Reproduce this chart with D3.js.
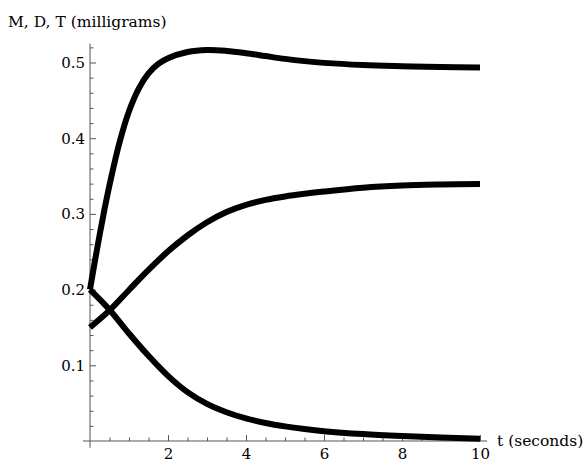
<!DOCTYPE html>
<html>
<head>
<meta charset="utf-8">
<script src="https://cdn.jsdelivr.net/npm/d3@7"></script>
<style>
  html, body { margin: 0; padding: 0; background: #fff; }
  svg { display: block; }
  text { font-family: "DejaVu Serif", "Liberation Serif", serif; fill: #000; }
</style>
</head>
<body>
<svg id="chart" width="587" height="462"></svg>
<script>
// ---- data ----
const tD = [0, 0.125, 0.25, 0.375, 0.5, 0.75, 1, 1.25, 1.5, 1.75, 2, 2.5, 3, 3.5, 4, 4.5, 5, 5.5, 6, 7, 8, 9, 10];
const valuesD = [0.2, 0.2375, 0.2731, 0.3069, 0.3381, 0.3931, 0.4356, 0.4656, 0.4856, 0.4981, 0.5056, 0.5138, 0.5165, 0.5153, 0.5123, 0.5085, 0.5048, 0.5018, 0.4995, 0.4967, 0.4952, 0.4941, 0.4933];

const tT = [0, 0.5, 1, 1.5, 2, 2.5, 3, 3.5, 4, 4.5, 5, 5.5, 6, 7, 8, 9, 10];
const valuesT = [0.15, 0.1725, 0.1995, 0.226, 0.2505, 0.2715, 0.289, 0.3025, 0.312, 0.3185, 0.323, 0.3265, 0.3295, 0.3345, 0.3374, 0.3388, 0.3396];

const tM = [0, 0.5, 1, 1.5, 2, 2.5, 3, 3.5, 4, 4.5, 5, 5.5, 6, 7, 8, 9, 10];
const valuesM = [0.2, 0.1735, 0.142, 0.1125, 0.086, 0.0645, 0.049, 0.038, 0.0298, 0.0238, 0.0193, 0.0158, 0.013, 0.0092, 0.0066, 0.0046, 0.0031];

const xMajorTicks = [2, 4, 6, 8, 10];
const xMinorTicks = [0.5, 1, 1.5, 2.5, 3, 3.5, 4.5, 5, 5.5, 6.5, 7, 7.5, 8.5, 9, 9.5];
const yMajorTicks = [0.1, 0.2, 0.3, 0.4, 0.5];
const yMinorTicks = [0.02, 0.04, 0.06, 0.08, 0.12, 0.14, 0.16, 0.18, 0.22, 0.24, 0.26, 0.28,
                     0.32, 0.34, 0.36, 0.38, 0.42, 0.44, 0.46, 0.48, 0.52];

const yAxisTitle = "M, D, T (milligrams)";
const xAxisTitle = "t (seconds)";

// ---- drawing ----
const svg = d3.select("#chart");
const x = d3.scaleLinear().domain([0, 10]).range([90, 480]);
const y = d3.scaleLinear().domain([0, 0.5]).range([441, 62.5]);

const axisColor = "#555";
const fontFam = '"DejaVu Serif", "Liberation Serif", serif';

// axis lines
svg.append("line")
  .attr("x1", x(-0.18)).attr("x2", x(10.18))
  .attr("y1", y(0)).attr("y2", y(0))
  .attr("stroke", axisColor).attr("stroke-width", 1);
svg.append("line")
  .attr("x1", x(0)).attr("x2", x(0))
  .attr("y1", y(-0.009)).attr("y2", y(0.525))
  .attr("stroke", axisColor).attr("stroke-width", 1);

// x axis ticks
const gx = svg.append("g").attr("transform", `translate(0,${y(0)})`);
gx.call(d3.axisBottom(x).tickValues(xMajorTicks).tickSize(-6).tickPadding(7).tickFormat(d3.format("d")));
gx.select(".domain").remove();
gx.selectAll("line").attr("stroke", axisColor);
gx.selectAll("text").attr("font-size", 15).style("font-family", fontFam);
const gx2 = svg.append("g").attr("transform", `translate(0,${y(0)})`);
gx2.call(d3.axisBottom(x).tickValues(xMinorTicks).tickSize(-3.5).tickFormat(""));
gx2.select(".domain").remove();
gx2.selectAll("line").attr("stroke", axisColor);

// y axis ticks
const gy = svg.append("g").attr("transform", `translate(${x(0)},0)`);
gy.call(d3.axisLeft(y).tickValues(yMajorTicks).tickSize(-6).tickPadding(5).tickFormat(d3.format(".1f")));
gy.select(".domain").remove();
gy.selectAll("line").attr("stroke", axisColor);
gy.selectAll("text").attr("font-size", 15).style("font-family", fontFam);
const gy2 = svg.append("g").attr("transform", `translate(${x(0)},0)`);
gy2.call(d3.axisLeft(y).tickValues(yMinorTicks).tickSize(-3.5).tickFormat(""));
gy2.select(".domain").remove();
gy2.selectAll("line").attr("stroke", axisColor);

// curves
const line = d3.line().x(d => x(d[0])).y(d => y(d[1])).curve(d3.curveCatmullRom.alpha(0.5));
const series = [
  d3.zip(tD, valuesD),
  d3.zip(tT, valuesT),
  d3.zip(tM, valuesM)
];
svg.append("g").selectAll("path").data(series).join("path")
  .attr("d", line)
  .attr("fill", "none")
  .attr("stroke", "#000")
  .attr("stroke-width", 6)
  .attr("stroke-linecap", "butt")
  .attr("stroke-linejoin", "miter");

// titles
svg.append("text").attr("x", 8).attr("y", 27).attr("font-size", 15.5).text(yAxisTitle);
svg.append("text").attr("x", 497).attr("y", 446).attr("font-size", 15.5).text(xAxisTitle);
</script>
</body>
</html>
